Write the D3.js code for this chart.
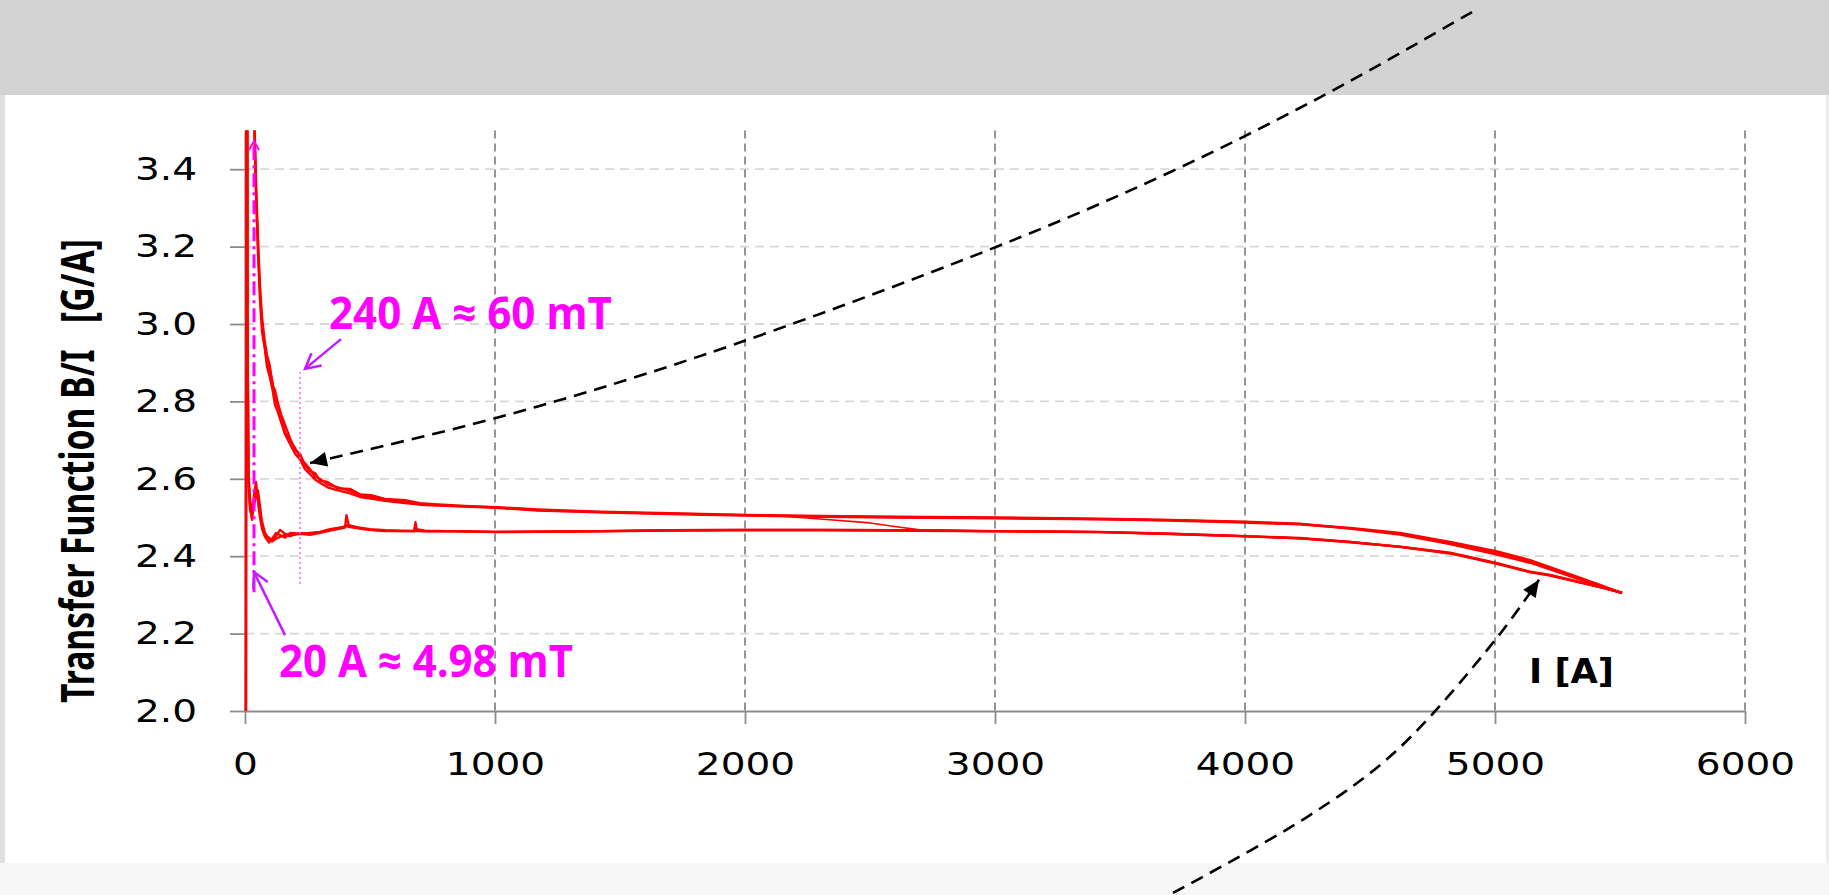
<!DOCTYPE html>
<html>
<head>
<meta charset="utf-8">
<script src="https://cdn.jsdelivr.net/npm/d3@7"></script>
<style>
  body { margin: 0; background: #f7f7f7; }
  svg { display: block; }
</style>
</head>
<body>
<svg id="chart"></svg>
<script>
// ---- data: current I [A] and transfer function B/I [G/A] ----
const upperI = [3, 6, 30, 38, 44, 52, 60, 68, 78, 88,
  100, 110, 120, 130, 145, 160, 180, 200, 220, 240,
  260, 280, 300, 330, 372, 420, 460, 504, 560, 640,
  700, 772, 880, 1004, 1172, 1420, 1700, 2000, 2300, 2600,
  3000, 3420, 3700, 4000, 4220, 4420, 4620, 4820, 5004, 5140,
  5220, 5420, 5508];
const upperA = [1.00, 4.50, 4.00, 3.50, 3.35, 3.20, 3.08, 3.00, 2.95, 2.90,
  2.88, 2.85, 2.81, 2.79, 2.76, 2.72, 2.70, 2.68, 2.655, 2.64,
  2.625, 2.605, 2.60, 2.585, 2.578, 2.568, 2.558, 2.553, 2.546, 2.540,
  2.535, 2.532, 2.529, 2.526, 2.519, 2.514, 2.510, 2.506, 2.503, 2.501,
  2.499, 2.496, 2.493, 2.488, 2.483, 2.473, 2.460, 2.437, 2.413, 2.390,
  2.372, 2.326, 2.305];
const upperB = [1.00, 4.50, 4.00, 3.52, 3.37, 3.22, 3.10, 3.02, 2.96, 2.92,
  2.89, 2.84, 2.83, 2.80, 2.765, 2.74, 2.705, 2.675, 2.665, 2.635,
  2.62, 2.615, 2.595, 2.592, 2.575, 2.574, 2.56, 2.558, 2.548, 2.545,
  2.537, 2.534, 2.530, 2.527, 2.521, 2.515, 2.511, 2.507, 2.504, 2.502,
  2.500, 2.497, 2.494, 2.489, 2.484, 2.471, 2.456, 2.431, 2.405, 2.383,
  2.366, 2.322, 2.305];
const upperC = [1.00, 4.50, 4.00, 3.49, 3.33, 3.18, 3.06, 2.98, 2.94, 2.89,
  2.86, 2.83, 2.79, 2.775, 2.745, 2.715, 2.69, 2.665, 2.65, 2.625,
  2.612, 2.598, 2.590, 2.578, 2.570, 2.562, 2.553, 2.549, 2.543, 2.537,
  2.533, 2.531, 2.528, 2.525, 2.518, 2.513, 2.509, 2.505, 2.502, 2.500,
  2.498, 2.495, 2.492, 2.487, 2.482, 2.472, 2.458, 2.435, 2.41, 2.387,
  2.37, 2.324, 2.305];

const lowerI = [5508, 5420, 5220, 5140, 5004, 4820, 4620, 4420, 4220, 4000,
  3700, 3420, 3000, 2600, 2300, 2000, 1700, 1420, 1172, 1000,
  860, 720, 686, 682, 676, 620, 560, 500, 460, 414,
  406, 400, 340, 300, 260, 220, 180, 160, 140, 124,
  108, 96, 80, 68, 60, 52, 44, 36, 28, 20,
  14, 10, 8];
const lowerA = [2.305, 2.320, 2.351, 2.359, 2.382, 2.408, 2.424, 2.437, 2.447, 2.452,
  2.458, 2.463, 2.465, 2.467, 2.468, 2.468, 2.467, 2.465, 2.463, 2.463,
  2.464, 2.466, 2.470, 2.488, 2.466, 2.465, 2.466, 2.468, 2.472, 2.481,
  2.506, 2.476, 2.470, 2.463, 2.460, 2.457, 2.455, 2.458, 2.468, 2.452,
  2.442, 2.448, 2.455, 2.481, 2.51, 2.545, 2.592, 2.558, 2.494, 2.532,
  2.60, 3.0, 4.5];
const lowerB = [2.305, 2.321, 2.352, 2.360, 2.383, 2.409, 2.425, 2.437, 2.446, 2.452,
  2.458, 2.462, 2.465, 2.467, 2.468, 2.468, 2.467, 2.465, 2.464, 2.463,
  2.465, 2.465, 2.466, 2.466, 2.465, 2.466, 2.467, 2.470, 2.474, 2.478,
  2.480, 2.477, 2.468, 2.462, 2.458, 2.46, 2.452, 2.455, 2.45, 2.445,
  2.438, 2.445, 2.46, 2.49, 2.53, 2.57, 2.56, 2.53, 2.51, 2.55,
  2.62, 3.0, 4.5];
const lowerC = [2.305, 2.320, 2.350, 2.359, 2.381, 2.407, 2.424, 2.436, 2.446, 2.451,
  2.457, 2.462, 2.464, 2.466, 2.467, 2.467, 2.466, 2.464, 2.463, 2.462,
  2.464, 2.464, 2.465, 2.465, 2.464, 2.465, 2.465, 2.468, 2.471, 2.476,
  2.479, 2.474, 2.466, 2.46, 2.455, 2.458, 2.46, 2.448, 2.455, 2.46,
  2.445, 2.435, 2.45, 2.47, 2.50, 2.54, 2.575, 2.545, 2.50, 2.52,
  2.58, 3.0, 4.5];

// partial trace that drops from the upper to the lower branch
const partI = [1420, 1700, 2000, 2112, 2340, 2500, 2620, 2700, 3000, 3420];
const partV = [2.514, 2.510, 2.506, 2.505, 2.494, 2.486, 2.475, 2.468, 2.465, 2.463];

const xTicks = [0, 1000, 2000, 3000, 4000, 5000, 6000];
const yTicks = [2.0, 2.2, 2.4, 2.6, 2.8, 3.0, 3.2, 3.4];

// annotations (data units)
const arrowUpper = [[4908, 3.806], [4304, 3.587], [3676, 3.385], [3004, 3.199], [1820, 2.917], [1004, 2.757], [260, 2.641]];
const arrowLower = [[3712, 1.530], [4248, 1.726], [4600, 1.894], [5004, 2.186], [5176, 2.339]];
const line240 = [[220, 2.876], [220, 2.326]];
const line20 = [[36, 2.307], [36, 3.473]];
const pointer240 = [[384, 2.961], [240, 2.884]];
const pointer20 = [[160, 2.196], [36, 2.359]];
const label240 = [336, 2.987];
const label20 = [136, 2.088];
const labelX = [5136, 2.072];

// ---- setup ----
const w = 1829, h = 895;
const svg = d3.select('#chart').attr('width', w).attr('height', h);

// page background: grey band on top, white panel
svg.append('rect').attr('width', w).attr('height', h).attr('fill', '#f7f7f7');
svg.append('rect').attr('width', w).attr('height', 95).attr('fill', '#d3d3d3');
svg.append('rect').attr('x', 0).attr('y', 95).attr('width', 5).attr('height', 768).attr('fill', '#e0e0e0');
svg.append('rect').attr('x', 1826).attr('y', 95).attr('width', 3).attr('height', 768).attr('fill', '#ececec');
svg.append('rect').attr('x', 5).attr('y', 95).attr('width', 1821).attr('height', 768).attr('fill', '#fff');

const xScale = d3.scaleLinear().domain([0, 6000]).range([245, 1745]);
const yScale = d3.scaleLinear().domain([2.0, 3.5]).range([711, 130.5]);

const defs = svg.append('defs');
defs.append('clipPath').attr('id', 'plot')
  .append('rect').attr('x', 238).attr('y', 130.5).attr('width', 1510).attr('height', 580.5);
defs.append('marker').attr('id', 'blackHead')
  .attr('markerUnits', 'userSpaceOnUse').attr('orient', 'auto')
  .attr('markerWidth', 20).attr('markerHeight', 20).style('overflow', 'visible')
  .append('path').attr('d', 'M0,0L-17,-7.5L-17,7.5Z').attr('fill', '#000');
defs.append('marker').attr('id', 'violetHead')
  .attr('markerUnits', 'userSpaceOnUse').attr('orient', 'auto')
  .attr('markerWidth', 20).attr('markerHeight', 20).style('overflow', 'visible')
  .append('path').attr('d', 'M-15,-8L0,0L-15,8').attr('fill', 'none')
  .attr('stroke', '#c21cff').attr('stroke-width', 2.5);
defs.append('marker').attr('id', 'pinkHead')
  .attr('markerUnits', 'userSpaceOnUse').attr('orient', 'auto')
  .attr('markerWidth', 12).attr('markerHeight', 12).style('overflow', 'visible')
  .append('path').attr('d', 'M-9,-5L0,0L-9,5').attr('fill', 'none')
  .attr('stroke', '#ff00ff').attr('stroke-width', 2);

// gridlines
svg.append('g').selectAll('line')
  .data(yTicks.slice(1))
  .enter().append('line')
  .attr('x1', xScale(0)).attr('x2', xScale(6000))
  .attr('y1', d => yScale(d)).attr('y2', d => yScale(d))
  .attr('stroke', '#d8d8d8').attr('stroke-width', 1.8)
  .attr('stroke-dasharray', '9,6');
svg.append('g').selectAll('line')
  .data(xTicks.slice(1))
  .enter().append('line')
  .attr('x1', d => xScale(d)).attr('x2', d => xScale(d))
  .attr('y1', yScale(3.5)).attr('y2', yScale(2.0))
  .attr('stroke', '#8a8a8a').attr('stroke-width', 1.8)
  .attr('stroke-dasharray', '8,5');

// axes
const xAxis = d3.axisBottom(xScale).tickValues(xTicks).tickSize(13).tickSizeOuter(0).tickPadding(28)
  .tickFormat(d3.format('d'));
const yAxis = d3.axisLeft(yScale).tickValues(yTicks).tickSize(15).tickSizeOuter(0)
  .tickFormat(d3.format('.1f'));

const gx = svg.append('g').attr('transform', `translate(0, ${yScale(2.0)})`).call(xAxis);
const gy = svg.append('g').attr('transform', `translate(${xScale(0)}, 0)`).call(yAxis);
[gx, gy].forEach(g => {
  g.select('.domain').attr('stroke', '#8c8c8c').attr('stroke-width', 2.2);
  g.selectAll('.tick line').attr('stroke', '#8c8c8c').attr('stroke-width', 1.8);
  g.selectAll('text').attr('fill', '#000')
    .style('font-family', '"DejaVu Sans", Verdana, sans-serif').style('font-size', '32px');
});
gx.selectAll('.tick text').attr('transform', 'scale(1.22,1)');
gy.selectAll('.tick text').attr('x', 0).attr('transform', 'translate(-48,0) scale(1.22,1)');

// red traces
const line = d3.line().x(d => xScale(d[0])).y(d => yScale(d[1]));
const traces = [
  d3.zip(upperI, upperA), d3.zip(upperI, upperB), d3.zip(upperI, upperC),
  d3.zip(lowerI, lowerA), d3.zip(lowerI, lowerB), d3.zip(lowerI, lowerC),
  d3.zip(partI, partV)
];
svg.append('g').attr('clip-path', 'url(#plot)')
  .selectAll('path')
  .data(traces)
  .enter().append('path')
  .attr('d', line)
  .attr('fill', 'none')
  .attr('stroke', '#ff0000')
  .attr('stroke-width', (d, i) => i === 6 ? 1.6 : 2.3)
  .attr('stroke-linejoin', 'round');

// magenta markers
svg.append('path').attr('d', line(line240))
  .attr('stroke', '#ff66ff').attr('stroke-width', 1.6).attr('stroke-dasharray', '2,3').attr('fill', 'none');
svg.append('path').attr('d', line(line20))
  .attr('stroke', '#ff00ff').attr('stroke-width', 3).attr('stroke-dasharray', '14,5,3,5')
  .attr('fill', 'none').attr('marker-end', 'url(#pinkHead)');
[pointer240, pointer20].forEach(p => {
  svg.append('path').attr('d', line(p))
    .attr('stroke', '#c21cff').attr('stroke-width', 2.5).attr('fill', 'none')
    .attr('marker-end', 'url(#violetHead)');
});

// black dashed pointers
const curve = d3.line().x(d => xScale(d[0])).y(d => yScale(d[1])).curve(d3.curveCatmullRom);
[arrowUpper, arrowLower].forEach(p => {
  svg.append('path').attr('d', curve(p))
    .attr('fill', 'none').attr('stroke', '#000').attr('stroke-width', 2.6)
    .attr('stroke-dasharray', '13,8').attr('marker-end', 'url(#blackHead)');
});

// texts
svg.append('text')
  .attr('transform', 'translate(94, 471) rotate(-90)')
  .attr('text-anchor', 'middle')
  .attr('textLength', 464).attr('lengthAdjust', 'spacingAndGlyphs')
  .style('font-family', '"Noto Sans", "Open Sans", sans-serif')
  .style('font-weight', 'bold').style('font-size', '46px').style('white-space', 'pre')
  .text('Transfer Function B/I   [G/A]');

const magenta = [[label240, '240 A \u2248 60 mT', 283], [label20, '20 A \u2248 4.98 mT', 294]];
magenta.forEach(([pos, txt, len]) => {
  svg.append('text')
    .attr('x', xScale(pos[0])).attr('y', yScale(pos[1]))
    .attr('textLength', len).attr('lengthAdjust', 'spacingAndGlyphs')
    .attr('fill', '#ff00ff')
    .style('font-family', '"Open Sans", "Noto Sans", sans-serif')
    .style('font-weight', 'bold').style('font-size', '45px')
    .text(txt);
});

svg.append('text')
  .attr('x', xScale(labelX[0])).attr('y', yScale(labelX[1]))
  .attr('textLength', 85).attr('lengthAdjust', 'spacingAndGlyphs')
  .style('font-family', '"DejaVu Sans", Verdana, sans-serif')
  .style('font-weight', 'bold').style('font-size', '34px')
  .text('I [A]');
</script>
</body>
</html>
